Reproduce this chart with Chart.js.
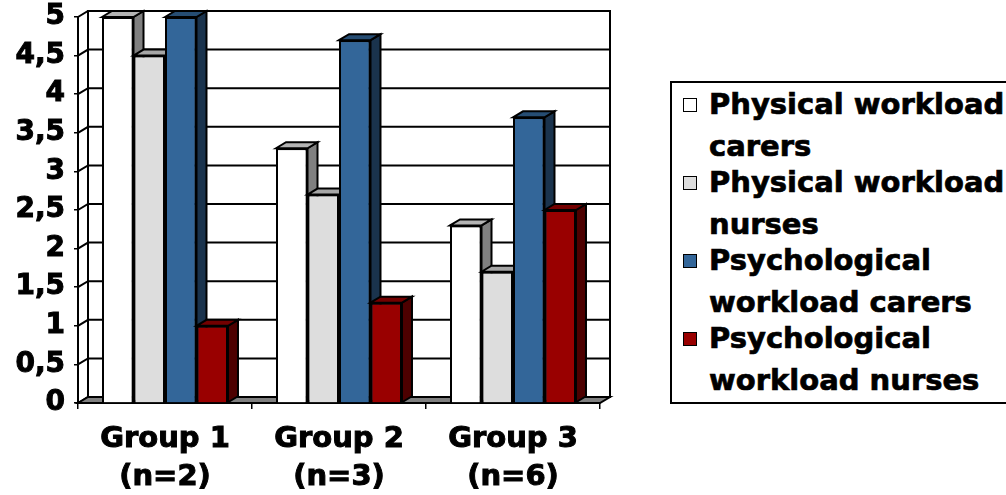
<!DOCTYPE html>
<html>
<head>
<meta charset="utf-8">
<script src="https://cdn.jsdelivr.net/npm/chart.js@4.4.0/dist/chart.umd.min.js"></script>
<style>
html, body { margin: 0; padding: 0; background: #fff; }
#wrap { position: relative; width: 1006px; height: 495px; overflow: hidden; }
#chart { position: absolute; left: 0; top: 0; }
#legend {
    position: absolute; left: 670px; top: 81px; width: 370px; height: 323px;
    border: 2px solid #000; box-sizing: border-box; background: #fff;
    font-family: 'DejaVu Sans'; font-weight: bold; font-size: 29px; color: #000;
    -webkit-text-stroke: 0.7px #000;
}
.item { position: relative; height: 78px; line-height: 42px; padding-left: 37px; white-space: nowrap; }
.swatch { position: absolute; left: 11px; top: 15px; width: 14px; height: 14px; border: 1.5px solid #000; box-sizing: border-box; }
</style>
</head>
<body>
<div id="wrap">
    <canvas id="chart" width="1006" height="495"></canvas>
    <div id="legend"></div>
</div>
<script>
// data
const categories = [['Group 1', '(n=2)'], ['Group 2', '(n=3)'], ['Group 3', '(n=6)']];
const seriesNames = ['Physical workload carers', 'Physical workload nurses',
    'Psychological workload carers', 'Psychological workload nurses'];
const legendLines = [['Physical workload', 'carers'], ['Physical workload', 'nurses'],
    ['Psychological', 'workload carers'], ['Psychological', 'workload nurses']];
const physicalCarers = [5, 3.3, 2.3];
const physicalNurses = [4.5, 2.7, 1.7];
const psychCarers = [5, 4.7, 3.7];
const psychNurses = [1, 1.3, 2.5];
const yMin = 0, yMax = 5, yStep = 0.5;

// colours for front / top / side faces
const frontColors = ['#ffffff', '#dddddd', '#336699', '#990000'];
const topColors = ['#b4b4b4', '#a6a6a6', '#264d73', '#730000'];
const sideColors = ['#808080', '#6e6e6e', '#1a334d', '#4d0000'];

const DX = 10, DY = -6;   // depth of the fake 3D

function poly(ctx, pts, fill) {
    ctx.beginPath();
    ctx.moveTo(pts[0][0], pts[0][1]);
    for (let k = 1; k < pts.length; k++) ctx.lineTo(pts[k][0], pts[k][1]);
    ctx.closePath();
    if (fill) { ctx.fillStyle = fill; ctx.fill(); }
    ctx.stroke();
}

const box3d = {
    id: 'box3d',
    beforeDraw(chart) {
        const { ctx, chartArea: a, scales: { y } } = chart;
        ctx.save();
        ctx.strokeStyle = '#000';
        ctx.lineWidth = 2;
        // back wall
        poly(ctx, [[a.left + DX, a.top + DY], [a.right + DX, a.top + DY],
            [a.right + DX, a.bottom + DY], [a.left + DX, a.bottom + DY]], '#fff');
        // gridlines on back wall + left wall diagonals
        y.ticks.forEach(t => {
            const py = y.getPixelForValue(t.value);
            ctx.beginPath();
            ctx.moveTo(a.left, py);
            ctx.lineTo(a.left + DX, py + DY);
            ctx.lineTo(a.right + DX, py + DY);
            ctx.stroke();
        });
        // floor
        poly(ctx, [[a.left, a.bottom], [a.left + DX, a.bottom + DY],
            [a.right + DX, a.bottom + DY], [a.right, a.bottom]], '#808080');
        ctx.restore();
    },
    afterDatasetsDraw(chart) {
        const ctx = chart.ctx;
        ctx.save();
        ctx.strokeStyle = '#000';
        ctx.lineWidth = 2;
        for (let i = 0; i < categories.length; i++) {
            for (let j = 0; j < chart.data.datasets.length; j++) {
                const el = chart.getDatasetMeta(j).data[i];
                const { x, y, base, width } = el.getProps(['x', 'y', 'base', 'width'], true);
                const l = x - width / 2, r = x + width / 2;
                poly(ctx, [[r, y], [r + DX, y + DY], [r + DX, base + DY], [r, base]], sideColors[j]);
                poly(ctx, [[l, y], [l + DX, y + DY], [r + DX, y + DY], [r, y]], topColors[j]);
                el.draw(ctx);
            }
        }
        ctx.restore();
    }
};

const seriesValues = [physicalCarers, physicalNurses, psychCarers, psychNurses];

new Chart(document.getElementById('chart'), {
    type: 'bar',
    data: {
        labels: categories,
        datasets: seriesValues.map((vals, j) => ({
            label: seriesNames[j],
            data: vals,
            backgroundColor: frontColors[j],
            borderColor: '#000',
            borderWidth: 2,
            categoryPercentage: 0.724,
            barPercentage: 1
        }))
    },
    options: {
        responsive: false,
        animation: false,
        layout: { padding: { left: 0, top: 17, right: 406, bottom: 0 } },
        plugins: { legend: { display: false }, tooltip: { enabled: false } },
        scales: {
            x: {
                ticks: {
                    color: '#000', padding: 11, maxRotation: 0, autoSkip: false,
                    textStrokeColor: '#000', textStrokeWidth: 1,
                    font: { family: 'DejaVu Sans', size: 29, weight: 'bold', lineHeight: 1.33 }
                },
                grid: { drawOnChartArea: false, tickLength: 6, color: '#000', lineWidth: 1.5, offset: true },
                border: { color: '#000', width: 2 },
                afterFit(s) { s.height = 92; s.paddingLeft = 0; s.paddingRight = 0; }
            },
            y: {
                min: yMin, max: yMax,
                ticks: {
                    stepSize: yStep, color: '#000', padding: 9,
                    textStrokeColor: '#000', textStrokeWidth: 1,
                    font: { family: 'DejaVu Sans', size: 28, weight: 'bold' },
                    callback: v => String(v).replace('.', ',')
                },
                grid: { drawOnChartArea: false, tickLength: 4, color: '#000', lineWidth: 1.5 },
                border: { color: '#000', width: 2 },
                afterFit(s) { s.width = 78; s.paddingTop = 0; s.paddingBottom = 0; }
            }
        }
    },
    plugins: [box3d]
});

// html legend
const legendEl = document.getElementById('legend');
legendLines.forEach((lines, j) => {
    const item = document.createElement('div');
    item.className = 'item';
    const sw = document.createElement('span');
    sw.className = 'swatch';
    sw.style.background = frontColors[j];
    item.appendChild(sw);
    lines.forEach((t, k) => {
        if (k) item.appendChild(document.createElement('br'));
        item.appendChild(document.createTextNode(t));
    });
    legendEl.appendChild(item);
});
</script>
</body>
</html>
